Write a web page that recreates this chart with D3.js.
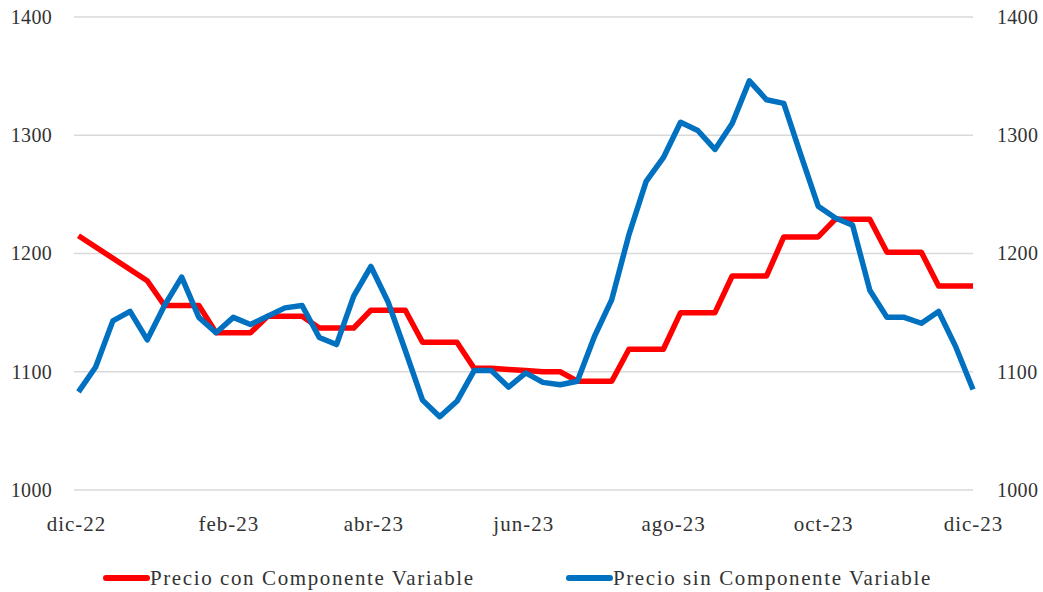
<!DOCTYPE html>
<html>
<head>
<meta charset="utf-8">
<script src="https://cdn.jsdelivr.net/npm/d3@7"></script>
<style>
  body { margin: 0; background: #fff; }
</style>
</head>
<body>
<div id="chart"></div>
<script>
// weekly observations, first one on 2 Dec 2022
const start_date = new Date(2022, 11, 2);
const n_weeks = 53;

// Precio con Componente Variable (null = no data, line joins across the gap)
const precio_con = [
  1215, null, null, null, 1177, 1156, 1156, 1156, 1133, 1133,
  1133, 1147, 1147, 1147, 1137, 1137, 1137, 1152, 1152, 1152,
  1125, 1125, 1125, 1103, 1103, 1102, 1101, 1100, 1100, 1092,
  1092, 1092, 1119, 1119, 1119, 1150, 1150, 1150, 1181, 1181,
  1181, 1214, 1214, 1214, 1229, 1229, 1229, 1201, 1201, 1201,
  1172.5, 1172.5, 1172.5
];

// Precio sin Componente Variable
const precio_sin = [
  1083, 1104, 1143, 1151, 1127, 1156, 1180, 1146, 1133, 1146,
  1140, 1147, 1154, 1156, 1129, 1123, 1164, 1189, 1159, 1118,
  1076, 1062, 1075, 1101, 1101, 1087, 1099, 1091, 1089, 1092,
  1130, 1161, 1216, 1261, 1281, 1311, 1304, 1288, 1310, 1346,
  1330, 1327, 1283, 1240, 1230, 1224, 1169, 1146, 1146, 1141,
  1151, 1121, 1085
];

const x_ticks = ["dic-22", "feb-23", "abr-23", "jun-23", "ago-23", "oct-23", "dic-23"];
const y_ticks = [1000, 1100, 1200, 1300, 1400];
const series_names = ["Precio con Componente Variable", "Precio sin Componente Variable"];
const series_colors = ["#ff0000", "#0070c0"];

const font = "Liberation Serif";
const text_color = "#333";

const width = 1043, height = 592;
const margin = {top: 17, right: 70, bottom: 102, left: 76};

const dates = d3.range(n_weeks).map(i => d3.timeWeek.offset(start_date, i));

const svg = d3.select("#chart")
  .append("svg")
    .attr("width", width)
    .attr("height", height)
    .attr("font-family", font);

const x = d3.scaleTime()
    .domain([new Date(2022, 11, 1), new Date(2023, 11, 1)])
    .range([margin.left, width - margin.right]);

const y = d3.scaleLinear()
    .domain([1000, 1400])
    .range([height - margin.bottom, margin.top]);

// gridlines
svg.append("g")
  .selectAll("line")
  .data(y_ticks)
  .join("line")
    .attr("x1", x.range()[0] - 2)
    .attr("x2", x.range()[1])
    .attr("y1", d => y(d))
    .attr("y2", d => y(d))
    .attr("stroke", "#d9d9d9")
    .attr("stroke-width", 1.5);

function styleAxis(g, size, spacing) {
  g.select(".domain").remove();
  g.attr("font-family", font);
  g.selectAll("text")
    .attr("font-size", size)
    .attr("fill", text_color)
    .attr("letter-spacing", spacing);
}

// left and right axis labels
const yAxisL = d3.axisLeft(y).tickValues(y_ticks).tickFormat(d3.format("d")).tickSize(0).tickPadding(24);
const yAxisR = d3.axisRight(y).tickValues(y_ticks).tickFormat(d3.format("d")).tickSize(0).tickPadding(24);

svg.append("g")
    .attr("transform", `translate(${margin.left},0)`)
    .call(yAxisL)
    .call(g => styleAxis(g, 20, 0.3));

svg.append("g")
    .attr("transform", `translate(${width - margin.right},0)`)
    .call(yAxisR)
    .call(g => styleAxis(g, 20, 0.3));

// x axis: one label every two months
const tick_dates = x_ticks.map((d, i) => d3.timeMonth.offset(new Date(2022, 11, 1), i * 2));
const xAxis = d3.axisBottom(x)
    .tickValues(tick_dates)
    .tickFormat((d, i) => x_ticks[i])
    .tickSize(0)
    .tickPadding(26);

svg.append("g")
    .attr("transform", `translate(0,${height - margin.bottom})`)
    .call(xAxis)
    .call(g => styleAxis(g, 21, 1));

// series lines
const line = d3.line()
    .x(d => x(d.date))
    .y(d => y(d.value));

const series = [precio_con, precio_sin].map(vals =>
  vals.map((v, i) => ({date: dates[i], value: v})).filter(d => d.value != null));

svg.append("g")
  .selectAll("path")
  .data(series)
  .join("path")
    .attr("fill", "none")
    .attr("stroke", (d, i) => series_colors[i])
    .attr("stroke-width", 5.5)
    .attr("stroke-linejoin", "round")
    .attr("d", line);

// legend
const legend_x = [104, 567];
const legend = svg.append("g")
  .selectAll("g")
  .data(series_names)
  .join("g")
    .attr("transform", (d, i) => `translate(${legend_x[i]},578)`);

legend.append("line")
    .attr("x1", 2).attr("x2", 43)
    .attr("stroke", (d, i) => series_colors[i])
    .attr("stroke-width", 6)
    .attr("stroke-linecap", "round");

legend.append("text")
    .attr("x", 46)
    .attr("dy", "0.35em")
    .attr("font-size", 21)
    .attr("fill", text_color)
    .attr("letter-spacing", 1.6)
    .text(d => d);
</script>
</body>
</html>
